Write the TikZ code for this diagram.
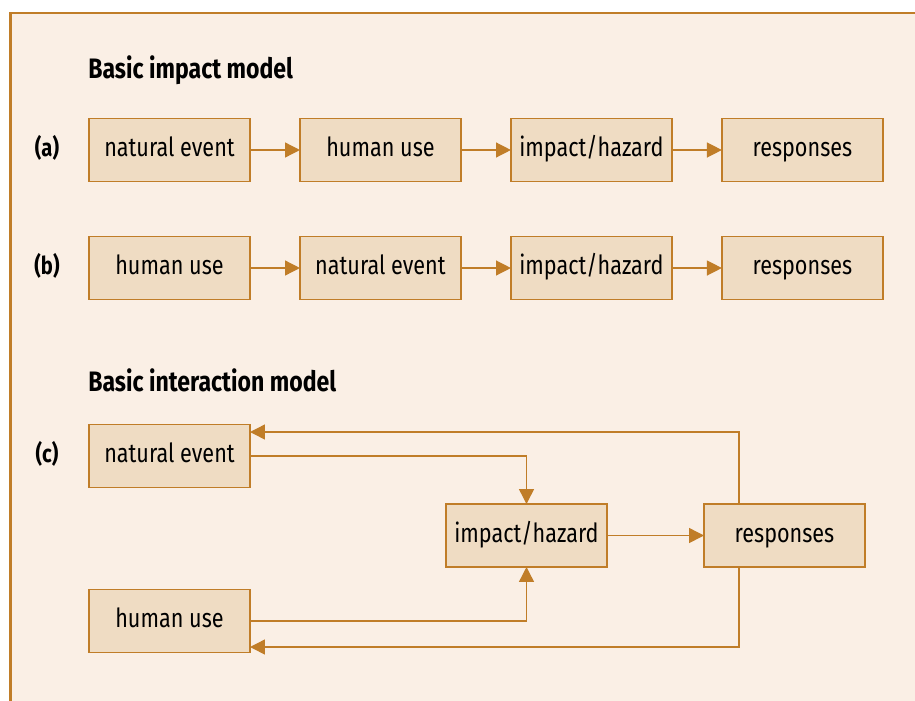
\documentclass[tikz,border=0pt]{standalone}
\usepackage{fontspec}
\setmainfont{Fira Sans}[FakeStretch=0.82]
\usetikzlibrary{positioning,arrows.meta}
\definecolor{bgcream}{HTML}{FAEFE5}
\definecolor{boxfill}{HTML}{EFDCC3}
\definecolor{ochre}{HTML}{C07D28}

\begin{document}
\begin{tikzpicture}[x=0.02cm, y=-0.02cm, node distance = 1cm,
box/.style={ rectangle, draw=ochre, fill=boxfill, line width=1.1pt, outer sep=0pt, minimum width = 3.22cm, minimum height = 1.26cm, text height=11pt, text depth=3.5pt, font=\fontsize{15}{17}\selectfont },
flow/.style={ draw=ochre, line width=0.8pt, -{Triangle[length=8.5pt, width=8.5pt]} },
tag/.style={ font=\bfseries\fontsize{14}{16}\selectfont },
heading/.style={ anchor=west, inner sep=0pt, font=\bfseries\fontsize{16}{18}\selectfont }]

\useasboundingbox (0,0) rectangle (915,700);
\clip (0,0) rectangle (915,700);
\fill[white] (0,0) rectangle (915,700);
\draw[ochre, fill=bgcream, line width=1.5pt] (10.5,13) rectangle (1000,800);

% basic impact model
\node (title1) [heading] at (88,70) {Basic impact model};

\node (a1) [box] at (169.5,150) {natural event};
\node (a2) [box, right = of a1] {human use};
\node (a3) [box, right = of a2] {impact/hazard};
\node (a4) [box, right = of a3] {responses};
\node (taga) [tag] at (47,148) {(a)};
\draw [flow] (a1) -- (a2);
\draw [flow] (a2) -- (a3);
\draw [flow] (a3) -- (a4);

\node (b1) [box] at (169.5,268) {human use};
\node (b2) [box, right = of b1] {natural event};
\node (b3) [box, right = of b2] {impact/hazard};
\node (b4) [box, right = of b3] {responses};
\node (tagb) [tag] at (47,266) {(b)};
\draw [flow] (b1) -- (b2);
\draw [flow] (b2) -- (b3);
\draw [flow] (b3) -- (b4);

% basic interaction model
\node (title2) [heading] at (88,380) {Basic interaction model};

\node (natev) [box] at (169.5,456) {natural event};
\node (human) [box] at (169.5,621) {human use};
\node (impact) [box] at (526.5,535.5) {impact/hazard};
\node (resp) [box] at (784.5,535.5) {responses};
\node (tagc) [tag] at (47,454) {(c)};

\coordinate (fback) at (739,432);
\coordinate (bback) at (739,647);

\draw [flow] (natev.east) -| (impact.north);
\draw [flow] (human.east) -| (impact.south);
\draw [flow] (impact) -- (resp);
\draw [flow] (resp.north -| fback) -- (fback) -- (natev.east |- fback);
\draw [flow] (resp.south -| bback) -- (bback) -- (human.east |- bback);

\end{tikzpicture}
\end{document}
